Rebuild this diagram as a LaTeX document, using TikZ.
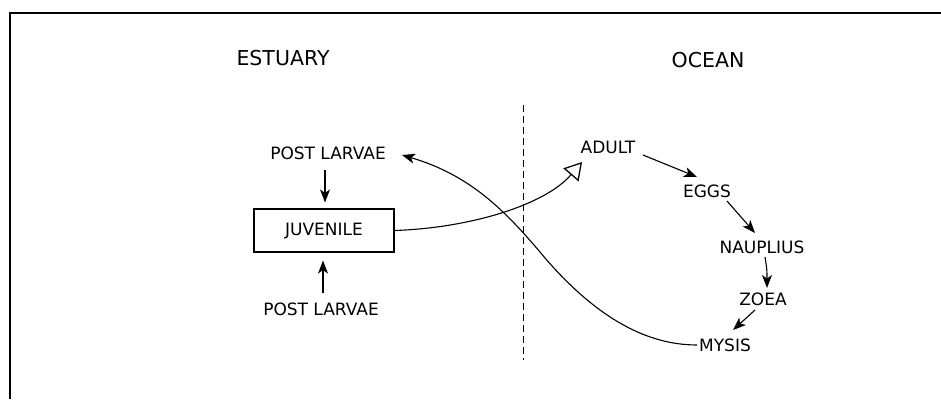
\documentclass[tikz,border=0pt]{standalone}
\usepackage{fontspec}
\setmainfont{DejaVu Sans}
\usetikzlibrary{arrows.meta}
\tikzset{
  lbl/.style={inner sep=2pt, font=\fontsize{17}{19}\selectfont},
  ttl/.style={inner sep=2pt, font=\fontsize{20.5}{23}\selectfont},
  boxed/.style={draw, line width=1.1pt, minimum width=140pt, minimum height=43pt, inner sep=0pt, font=\fontsize{17}{19}\selectfont},
  conn/.style={line width=1.1pt, -{Stealth[length=13pt,width=10pt,inset=3.5pt]}},
  openconn/.style={line width=1.1pt, -{Triangle[open,length=17pt,width=20pt,line width=1.3pt]}},
}
\begin{document}
\begin{tikzpicture}[x=1pt,y=-1pt]
\useasboundingbox (0,0) rectangle (941,399);
% frame (top and left edges)
\draw[line width=1.3pt] (10,399) -- (10,13) -- (941,13);
% titles
\node[ttl] (est) at (283,58) {ESTUARY};
\node[ttl] (ocean) at (708,60) {OCEAN};
% divider
\coordinate (dtop) at (523,105);
\coordinate (dbot) at (523,360);
\draw[line width=0.9pt, dash pattern=on 7pt off 4pt] (dtop) -- (dbot);
% estuary side
\node[lbl] (pltop) at (328,153) {POST LARVAE};
\node[boxed] (juv) at (324,230.5) {JUVENILE};
\node[lbl] (plbot) at (321,309) {POST LARVAE};
% ocean side
\node[lbl] (adult) at (608,147) {ADULT};
\node[lbl] (eggs) at (707,191) {EGGS};
\node[lbl] (naup) at (762,247) {NAUPLIUS};
\node[lbl] (zoea) at (763,299) {ZOEA};
\node[lbl] (mysis) at (725,345) {MYSIS};
% connectors
\draw[conn] ([shift={(-3,17)}]pltop.center) -- ([shift={(1,-6)}]juv.north);
\draw[conn] ([shift={(2,-16)}]plbot.center) -- ([shift={(-1,8)}]juv.south);
\draw[conn] ([shift={(35,8)}]adult.center) -- ([shift={(-10,-14)}]eggs.center);
\draw[conn] ([shift={(20,10)}]eggs.center) -- ([shift={(-7,-14)}]naup.center);
\draw[conn] ([shift={(3,10)}]naup.center) .. controls (767,270) .. ([shift={(4,-11)}]zoea.center);
\draw[conn] ([shift={(-8,11)}]zoea.center) -- ([shift={(8,-15)}]mysis.center);
\draw[openconn] (juv.east) .. controls (470,228) and (545,205) .. ([shift={(-26,15)}]adult.center);
\draw[conn] ([shift={(-28,0)}]mysis.center) .. controls (640,345) and (590,310) .. (545,258)
  .. controls (505,210) and (470,175) .. ([shift={(74,2)}]pltop.center);
\end{tikzpicture}
\end{document}
